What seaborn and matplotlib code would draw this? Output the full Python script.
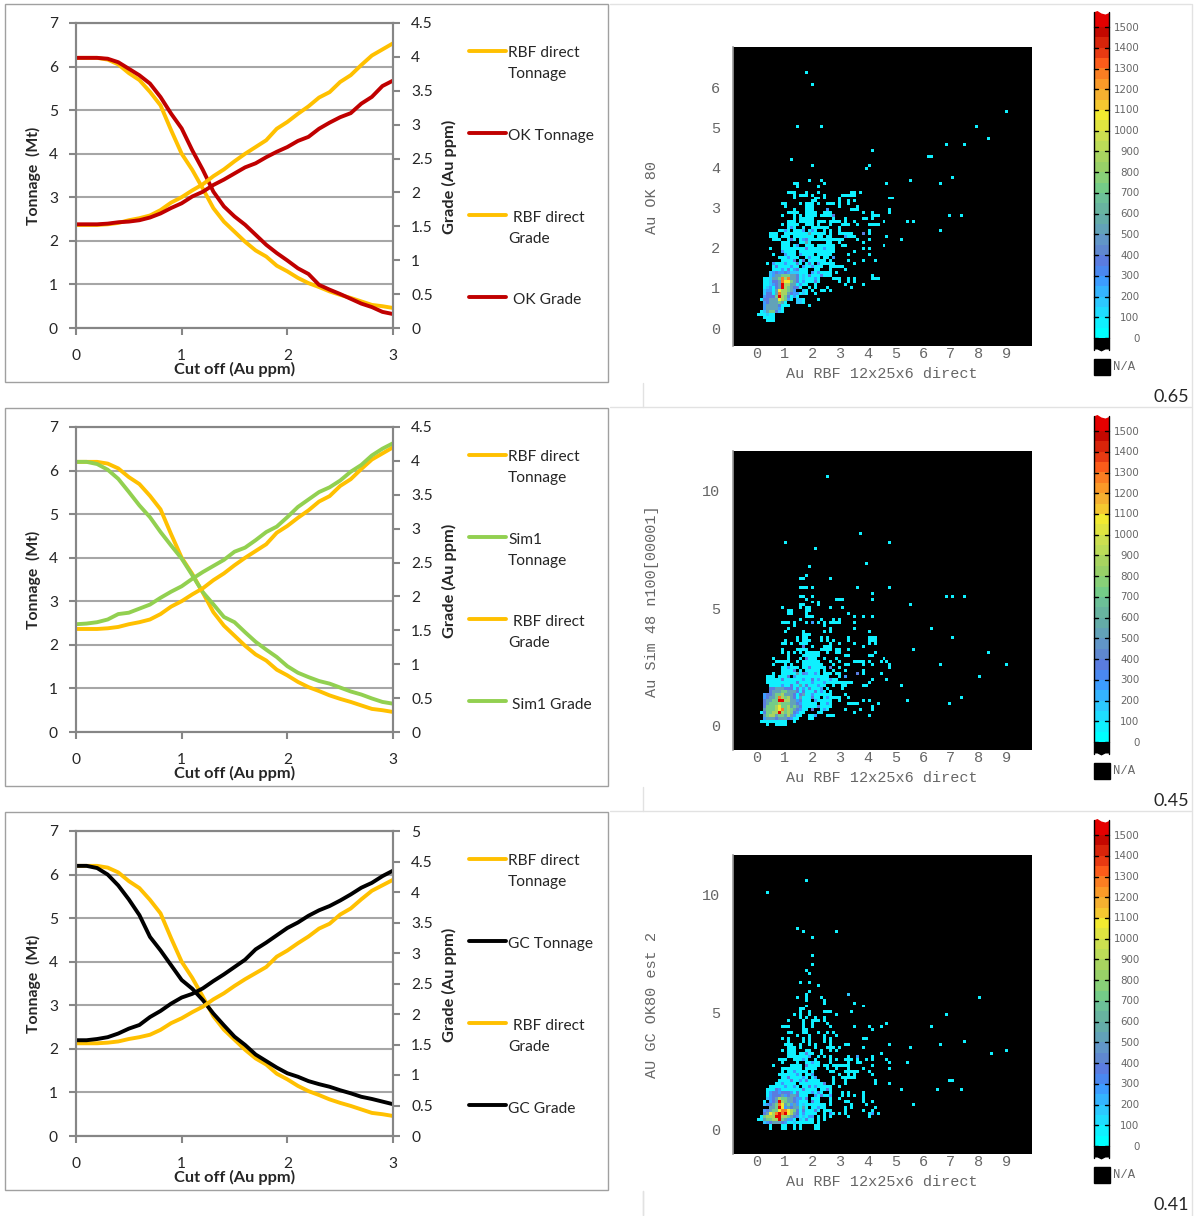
import numpy as np
import matplotlib
matplotlib.use('Agg')
import matplotlib.pyplot as plt
from matplotlib.colors import ListedColormap
import seaborn as sns

W, H = 1195, 1216

# --- grade / tonnage curves ---
cutoff = [0.0, 0.1, 0.2, 0.3, 0.4, 0.5, 0.6, 0.7, 0.8, 0.9, 1.0, 1.1, 1.2, 1.3, 1.4, 1.5,
          1.6, 1.7, 1.8, 1.9, 2.0, 2.1, 2.2, 2.3, 2.4, 2.5, 2.6, 2.7, 2.8, 2.9, 3.0]

rbf_tonnage = [6.2, 6.2, 6.2, 6.16, 6.05, 5.85, 5.69, 5.42, 5.11, 4.54, 4.0, 3.63, 3.2, 2.75, 2.44, 2.21,
               1.98, 1.78, 1.64, 1.43, 1.3, 1.15, 1.03, 0.94, 0.84, 0.76, 0.69, 0.61, 0.53, 0.5, 0.46]
rbf_grade = [1.52, 1.52, 1.52, 1.53, 1.55, 1.59, 1.62, 1.66, 1.74, 1.85, 1.93, 2.03, 2.12, 2.24, 2.34, 2.46,
             2.57, 2.67, 2.77, 2.94, 3.04, 3.16, 3.27, 3.4, 3.48, 3.63, 3.73, 3.88, 4.02, 4.11, 4.2]
ok_tonnage = [6.2, 6.2, 6.2, 6.18, 6.1, 5.95, 5.8, 5.61, 5.3, 4.92, 4.58, 4.08, 3.63, 3.13, 2.79, 2.56,
              2.37, 2.14, 1.91, 1.72, 1.55, 1.37, 1.24, 0.99, 0.88, 0.78, 0.67, 0.56, 0.48, 0.37, 0.32]
ok_grade = [1.53, 1.53, 1.53, 1.54, 1.56, 1.57, 1.59, 1.63, 1.69, 1.77, 1.84, 1.94, 2.01, 2.11, 2.19, 2.28,
            2.37, 2.43, 2.52, 2.6, 2.67, 2.76, 2.82, 2.94, 3.03, 3.11, 3.17, 3.31, 3.41, 3.57, 3.65]
sim_tonnage = [6.2, 6.2, 6.15, 6.02, 5.81, 5.51, 5.2, 4.93, 4.59, 4.28, 3.98, 3.6, 3.21, 2.93, 2.64, 2.52,
               2.29, 2.07, 1.89, 1.72, 1.51, 1.36, 1.26, 1.17, 1.11, 1.02, 0.93, 0.86, 0.77, 0.69, 0.65]
sim_grade = [1.59, 1.6, 1.62, 1.66, 1.74, 1.76, 1.82, 1.88, 1.98, 2.07, 2.15, 2.26, 2.36, 2.45, 2.54, 2.66,
             2.72, 2.83, 2.95, 3.03, 3.17, 3.32, 3.43, 3.54, 3.61, 3.71, 3.84, 3.94, 4.08, 4.18, 4.26]
gc_tonnage = [6.2, 6.2, 6.15, 6.0, 5.75, 5.43, 5.07, 4.57, 4.26, 3.92, 3.58, 3.38, 3.12, 2.81, 2.54, 2.28,
              2.09, 1.87, 1.72, 1.57, 1.44, 1.36, 1.26, 1.19, 1.13, 1.05, 0.98, 0.9, 0.85, 0.79, 0.73]
gc_grade = [1.57, 1.57, 1.59, 1.62, 1.68, 1.76, 1.82, 1.95, 2.05, 2.17, 2.27, 2.33, 2.42, 2.54, 2.65, 2.77,
            2.89, 3.06, 3.17, 3.29, 3.41, 3.5, 3.61, 3.7, 3.77, 3.86, 3.96, 4.07, 4.15, 4.26, 4.35]

grade_ticks_a = [0, 0.5, 1, 1.5, 2, 2.5, 3, 3.5, 4, 4.5]
grade_ticks_b = [0, 0.5, 1, 1.5, 2, 2.5, 3, 3.5, 4, 4.5, 5]
tonnage_ticks = [0, 1, 2, 3, 4, 5, 6, 7]
cutoff_ticks = [0, 1, 2, 3]

# --- scatter density cells, by bin row: "col" or "first-last" ---
p1_first_row = 44
p1_cells = ["25 29", "20 21 30 51", "21 28", "", "18-20 24 28 39 40 42", "20 22-24 26 30 36-40", "20 27 28 30 35 52 53",
            "26 27 35 38 40", "16 17 22 24-26 28 31-33 35 38", "17 24-26 35 41", "20 24-26 39-41 52",
            "18-21 24-27 30-32 43 46 52", "16 20 22 24-27 29-32 46-48", "20 22-26 33 37 43 44 46",
            "18-20 22-26 28-30 32-35 37 40 50 58 60", "16 18-21 24-26 28 32 36-38 41 45-48", "18-20 23 26 27 28-31 35",
            "15 16 18 20-23 25-27 30 32 35 45", "12-14 17-24 26-30 32 35-39 45", "12-14 16-18 20-26 28 29 31 32 38-40 51",
            "13-15 18-20 22-25 26-30 31-33 34 35 36 41 45 56", "16 17 18 22-25 31 32 35 43", "16-18 20 24-26 28-33 36 37 50",
            "12 16-19 20-22 23-26 27-31 32 33 43 45", "16-20 22-26 27-31 32 33 40", "13 17-20 22-26 28-31 32 38 45",
            "15 16 17-21 24-28 30 31 33", "16-19 22 23 25 26 27-29 30 32 38 43 47", "11 13-15 16-22 24-26 28-31 32 33 40",
            "13-16 17-21 24-29 32-36", "13-20 22-24 27 28 32 37", "12-16 18-23 24 27-32 34", "12-22 24-31 32 46",
            "11 13-22 24 25 26-28 33-35 38 40 46-48", "11 13-22 24-28 35 38 40", "11 13-21 23 24 27 37 43",
            "11-13 14-22 25 27 31 39", "11-13 15-20 24 26 29 30 32", "11-13 15-22 24 27", "11-19 21", "9-19 22 23 28",
            "11-17 22 23", "11-16 18 25", "10-16", "9-16", "8-13", "10-13", "11-13"]
p2_first_row = 37
p2_cells = ["44", "25", "", "", "24", "22 23 32", "", "", "22-24 26 41 52", "", "46", "22 23 26", "24 34-36 46", "26 28",
            "22 23 28 59", "16 22 24 25 32 36", "18 19 24 25", "18 19 24 38", "24-26 40 43 46", "22 29 33 35",
            "16-18 20 24 26 28 30 32 33-35 40", "20 30", "18 32 40", "17 23 30 32 45", "23-25",
            "21 23 24 29 31 38 45-47", "17 21 23-25 29 31 33 38 45-47", "16 17 19 22 23 24 32 35 40 45 47",
            "23 26 30-32 43", "16 21-23 24 29-32 34 35 38 60", "16 18 20 22 24 25-28 31 34 35 47",
            "18 23 24 25-28 37 38 45 46", "13 18 22 24 25-27 30 34 50", "14-18 21 23-28 32 35 40-42 43 45 49 51",
            "13 17 19 23-27 28 29 33 37 38 43 46 52", "16-21 23-25 26-30 32 35 52", "16-20 22 24-28 30 33 37 43",
            "13 16-20 22-25 26-28 30-32 34 35 41 43 49", "11-13 15-18 20-23 24-31 35 37", "11-17 18-32 33 34 46 51",
            "11-13 14-32 33-35 36-39 45", "12-29 30 33 36 37 43 44 56", "12-28 31 36", "13-30 32", "11-29 30-32 37",
            "11-28 30 32-35 38", "11-25 27-32 35 43 45 58", "11-27 29-32 38-41 48", "11-27 29-32 46", "10-24 29-31 37 42 46",
            "9-23 28 29 40", "10-22 25 26 31-33 45", "10-21 25 26", "9-13 14-17 20", "11 14-17"]
p3_first_row = 36
p3_cells = ["26", "", "24", "25", "", "", "22 25", "28", "", "25", "24 38", "21 24 29", "24 30", "30 40", "24 43", "22 23",
            "22 25 30-32 39", "20 22 25 34", "22 24 27 30", "18 23 26 27 28 30", "23 26 31 51", "16-18 23 26 32 40 45 49",
            "23 24 46", "18 19 23 24 28 31 33", "21 25 30 34", "16 18 23 25 30 32 43 44", "18 23 25 30 32",
            "17-19 22 25 27 32 37 38 52", "18-20 22 27 31 32 33 35 43 59", "16 18-20 24 25 29 32 34", "18-20 22-26 29 49",
            "18-25 28 30 32 38 41 46", "15-17 20-22 24 27 32 34 37-39 41 44 46 51", "16 21 24-28 32 38 41 42 52 58",
            "13 19-21 22 24-28 30 31 33-37 38 46", "16 17 18-22 24-27 31 34 38 43 52", "16 18-24 26 32 33 37-41 45",
            "15-21 22 24-26 35 38 40 46", "16-24 26 27 33 36-40", "15-28 33 37 47", "14-20 22-30 33 37 47 52",
            "12-21 23-32 35", "11-27 29-31 32 56", "11-27 29 32 36 38 43", "11-24 27-31 36 38 40 43", "12-24 26-28 32 35 43",
            "10 14-24 26-28 32 37 38 43 46", "12-23 24-30 32 39 44 60", "13-24 26-30 37 39 47", "10-24 25-28 30-32 37 43 46",
            "10-23 24-27 30 33 35 37 45 48", "9-22 24-26 28 30 32 38 45", "8 9-20 22-26 28 30", "10-19 21-26 28",
            "12 16 17 20 22 27 28", "12 16 17 20 22 27 28"]

# hot core of each scatter: characters are count levels, columns start at core_col
core_col = 10
p1_core_row = 75
p1_core = ["..2343343222..", "..2355666554.2", "1.2556979554.2", "1.2445988654.3", "1.2345r7755.3.", "123.45r76544..",
           "233.5877653..2", "244.59775433.2", "34446r764.3...", "445558763..22.", "3455565....22.", "355554.1......",
           "355553........", "256642........", "121..........."]
p2_core_row = 79
p2_core = ["..44555444.4.3", "..4555665554.4", "34456675554.4.", "34556976754.5.", "45566rr775534.", "4566676665543.",
           "4666786675654.", "5666789676543.", "46677r767643..", "56775665753...", "3555455543...."]
p3_core_row = 79
p3_core = ["..34434443.4..", "..3444534554..", ".23457665543..", "..345r765543..", "234569856353.2", "..556r835455.5",
           "345668998764.4", "45879r9r8754.3", "6777rr776543.2", "56677r6533..2.", "23455543..2..."]
level_counts = {'1': 75, '2': 175, '3': 275, '4': 375, '5': 525, '6': 725, '7': 875, '8': 1075, '9': 1275, 'r': 1525}

# blue cells inside the mid part of each cloud
p1_mid_col = [25, 24, 23, 17, 19, 23, 26, 33, 43, 31, 37, 24, 18, 21, 25, 13, 16, 18, 20, 26, 28, 30, 22, 24,
              17, 21, 19, 23, 16, 20, 17, 25, 23, 14, 19, 21, 26, 28, 29, 25, 27, 27, 33]
p1_mid_row = [62, 65, 71, 69, 60, 61, 61, 56, 62, 54, 63, 67, 70, 72, 70, 72, 74, 74, 74, 73, 72, 67, 69, 64,
              61, 66, 64, 64, 68, 71, 72, 72, 73, 73, 73, 74, 75, 75, 76, 76, 77, 78, 70]
p1_mid_cnt = [525, 525, 375, 275, 275, 275, 275, 375, 375, 275, 275, 375, 275, 375, 275, 275, 275, 375, 275, 275, 275, 275, 275, 375,
              275, 275, 375, 275, 275, 375, 275, 375, 275, 375, 275, 375, 275, 275, 375, 375, 275, 375, 275]
p2_mid_col = [24, 25, 21, 23, 26, 28, 19, 22, 25, 28, 32, 37, 41, 32, 20, 16, 23, 26, 31, 27, 29, 26, 23,
              18, 20, 24, 27, 18, 23, 26, 21, 16, 24, 30, 27, 26, 29, 31, 28, 30, 26, 27]
p2_mid_row = [69, 72, 74, 74, 76, 76, 78, 78, 79, 78, 76, 75, 74, 72, 75, 76, 81, 82, 84, 83, 79, 57, 65,
              72, 73, 74, 74, 75, 76, 77, 77, 78, 78, 77, 80, 81, 80, 82, 85, 86, 86, 88]
p2_mid_cnt = [375, 375, 525, 375, 375, 275, 375, 525, 375, 275, 275, 275, 375, 375, 275, 375, 525, 375, 275, 275, 275, 275, 375,
              275, 375, 275, 275, 375, 275, 275, 375, 275, 375, 275, 375, 275, 275, 275, 375, 275, 375, 275]
p3_mid_col = [24, 25, 23, 26, 24, 27, 24, 21, 30, 20, 17, 14, 13, 27, 29, 32, 22, 24, 38, 41, 32, 46,
              20, 18, 23, 26, 16, 19, 25, 27, 15, 23, 26, 28, 22, 26, 28, 27, 26, 24, 25, 31]
p3_mid_row = [66, 67, 68, 69, 70, 74, 75, 73, 76, 77, 77, 78, 80, 80, 80, 80, 75, 81, 46, 67, 86, 86,
              72, 74, 74, 73, 76, 75, 77, 77, 78, 78, 79, 79, 81, 82, 84, 85, 87, 88, 87, 78]
p3_mid_cnt = [375, 275, 275, 275, 375, 275, 375, 275, 375, 275, 275, 375, 375, 275, 375, 275, 275, 375, 175, 275, 275, 275,
              275, 375, 275, 275, 275, 375, 375, 275, 275, 375, 275, 275, 275, 375, 275, 375, 275, 375, 275, 375]

# isolated high-grade cells, in Au ppm
p1_far_x = [1.79, 2.0, 1.48, 2.33, 8.96, 7.98, 8.41, 6.83, 6.9, 7.46, 4.15, 6.25, 6.33, 1.27, 2.0, 4.05, 3.94, 5.56, 7.03, 6.61, 6.92, 7.34, 6.61]
p1_far_y = [6.35, 6.06, 5.02, 5.02, 5.39, 5.02, 4.72, 4.59, 4.59, 4.59, 4.43, 4.29, 4.29, 4.23, 4.07, 4.07, 4.0, 3.71, 3.77, 3.63, 2.82, 2.82, 2.45]
p2_far_x = [2.52, 1.0, 2.09, 3.7, 4.78, 9.0, 8.4, 8.0, 7.12, 7.5, 6.83, 6.26, 7.05, 6.65, 7.34, 6.94]
p2_far_y = [10.6, 7.8, 7.5, 8.2, 7.84, 2.55, 3.05, 2.03, 5.55, 5.55, 5.5, 4.15, 3.8, 2.55, 1.23, 1.0]
p3_far_x = [0.4, 1.76, 1.47, 1.62, 2.84, 1.98, 1.98, 9.0, 8.42, 8.0, 6.33, 6.83, 6.62, 7.48, 7.05, 6.94, 7.37, 6.58]
p3_far_y = [10.08, 10.6, 8.6, 8.43, 8.47, 8.18, 7.46, 3.39, 3.3, 5.59, 4.32, 4.92, 3.56, 3.69, 2.03, 2.03, 1.69, 1.65]

rbf_ticks = [0, 1, 2, 3, 4, 5, 6, 7, 8, 9]
p1_y_ticks = [0, 1, 2, 3, 4, 5, 6]
p2_y_ticks = [0, 5, 10]
p3_y_ticks = [0, 5, 10]

band_colors = ['#00ffff', '#0ff0ff', '#1fdcff', '#2cc8ff', '#34b4ff', '#3c9cff', '#4a88f0', '#5a7ce0',
               '#5f88d0', '#6196c8', '#62a2b8', '#64aca8', '#68b4a0', '#6cc098', '#74cc88', '#88d078',
               '#98d068', '#a8d460', '#bcdc58', '#ccdf50', '#e0e440', '#f2ea30', '#f5c830', '#f5b030',
               '#fa9a28', '#fa7e22', '#fc5c1a', '#e83a12', '#d8240a', '#c40800', '#e40000', '#e40000']
band_mids = [1575, 1525, 1475, 1425, 1375, 1325, 1275, 1225, 1175, 1125, 1075, 1025, 975, 925, 875, 825, 775,
             725, 675, 625, 575, 525, 475, 425, 375, 325, 275, 225, 175, 125, 75, 25, -25, -75]
band_labels = [1500, 1400, 1300, 1200, 1100, 1000, 900, 800, 700, 600, 500, 400, 300, 200, 100, 0]

sns.set_theme(style='white')
plt.rcParams['font.family'] = ['Lato', 'DejaVu Sans']
GRAY = '#868686'
TXT = '#262626'
MONO = 'Liberation Mono'
dens_cmap = ListedColormap(band_colors)

fig = plt.figure(figsize=(W / 100, H / 100), dpi=100, facecolor='white')


def px_axes(x0, y0, x1, y1, **kw):
    return fig.add_axes([x0 / W, 1 - y1 / H, (x1 - x0) / W, (y1 - y0) / H], **kw)


page = px_axes(0, 0, W, H, zorder=5)
page.set_xlim(0, W)
page.set_ylim(H, 0)
page.axis('off')
page.patch.set_alpha(0)


def curve_panel(dy, grade_ticks, other_t, other_g, color, names):
    y0, y1 = 23 + dy, 328 + dy
    ax = px_axes(76, y0, 393, y1)
    line_kw = dict(linewidth=2.8, solid_joinstyle='round')
    sns.lineplot(x=cutoff, y=rbf_tonnage, ax=ax, color='#ffc000', **line_kw)
    sns.lineplot(x=cutoff, y=other_t, ax=ax, color=color, **line_kw)
    ax.set_xlim(0, 3)
    ax.set_ylim(0, 7)
    ax.set_xticks(cutoff_ticks)
    ax.set_yticks(tonnage_ticks)
    ax.grid(axis='y', color='#a6a6a6', linewidth=1.5)
    ax.set_axisbelow(True)
    ax.tick_params(length=5, width=1.5, color=GRAY, labelsize=11.2, labelcolor=TXT, pad=8, bottom=True, left=True)
    ax.xaxis.set_tick_params(pad=10)
    ax2 = ax.twinx()
    sns.lineplot(x=cutoff, y=rbf_grade, ax=ax2, color='#ffc000', **line_kw)
    sns.lineplot(x=cutoff, y=other_g, ax=ax2, color=color, **line_kw)
    ax2.set_ylim(0, grade_ticks[-1])
    ax2.set_yticks(grade_ticks)
    ax2.set_yticklabels([f'{t:g}' for t in grade_ticks])
    ax2.tick_params(length=5, width=1.5, color=GRAY, labelsize=11.2, labelcolor=TXT, pad=8, right=True)
    ax2.grid(False)
    ax2.set_xlim(0, 3)
    for a in (ax, ax2):
        a.set_ylabel('')
        for s in a.spines.values():
            s.set_color(GRAY)
            s.set_linewidth(1.5)
    # frame and axis titles
    page.add_patch(plt.Rectangle((5, 4 + dy), 603, 378, fill=False, ec='#a0a0a0', lw=1))
    page.text(33, 176 + dy, 'Tonnage  (Mt)', rotation=90, ha='center', va='center', fontsize=11.3, fontweight='bold', color=TXT)
    page.text(449, 177 + dy, 'Grade (Au ppm)', rotation=90, ha='center', va='center', fontsize=11.8, fontweight='bold', color=TXT)
    page.text(235, 369 + dy, 'Cut off (Au ppm)', ha='center', va='center', fontsize=11.8, fontweight='bold', color=TXT)
    # hand-placed legend
    keys = [51, 133, 215, 297]
    key_colors = ['#ffc000', color, '#ffc000', color]
    for k, c in zip(keys, key_colors):
        page.plot([469, 506], [k + dy, k + dy], color=c, lw=2.8, solid_capstyle='round')
    for tx, ty, s in names:
        page.text(tx, ty + 1 + dy, s, ha='left', va='center', fontsize=11.2, color=TXT)


def fill_cells(grid, first_row, cells):
    for i, row in enumerate(cells):
        for tok in row.split():
            a, _, b = tok.partition('-')
            grid[first_row + i, int(a):int(b or a) + 1] = 75


def density_panel(dy, cells, first_row, core, core_row, mid, far, y_top, y_scale, y_ticks, ylabel, label_y, r2):
    grid = np.zeros((100, 100))
    fill_cells(grid, first_row, cells)
    x_scale = 27.8
    x_min = (733 - 757) / x_scale
    for x, y in zip(*far):
        r = int((y_top - y) * y_scale / 3)
        c = int((x - x_min) * x_scale / 3)
        grid[r, c] = 75
    for i, row in enumerate(mid[1]):
        grid[row, mid[0][i]] = mid[2][i]
    for i, row in enumerate(core):
        for j, ch in enumerate(row):
            if ch != '.':
                grid[core_row + i, core_col + j] = level_counts[ch]
    ax = px_axes(733, 47 + dy, 1032, 346 + dy)
    ax.set_facecolor('black')
    sns.heatmap(grid, ax=ax, mask=grid == 0, cmap=dens_cmap, vmin=0, vmax=1600, cbar=False,
                xticklabels=False, yticklabels=False, square=False)
    ax.set_xticks([(t - x_min) * x_scale / 3 for t in rbf_ticks])
    ax.set_xticklabels([str(t) for t in rbf_ticks], family=MONO, fontsize=11, color='#666666')
    ax.set_yticks([(y_top - t) * y_scale / 3 for t in y_ticks])
    ax.set_yticklabels([str(t) for t in y_ticks], family=MONO, fontsize=11, color='#666666', rotation=0)
    ax.tick_params(length=0)
    ax.tick_params(axis='y', pad=9)
    ax.tick_params(axis='x', pad=1)
    ax.spines['left'].set_visible(True)
    ax.spines['left'].set_color('#9a9a9a')
    ax.spines['left'].set_linewidth(1.2)
    page.text(882, 374 + dy, 'Au RBF 12x25x6 direct', family=MONO, ha='center', va='center', fontsize=10.9, color='#666666')
    page.text(652, label_y + dy, ylabel, family=MONO, rotation=90, ha='center', va='center', fontsize=11, color='#666666')
    # colour key
    bar = px_axes(1094, 11 + dy, 1109, 352 + dy)
    bar.set_facecolor('black')
    vals = np.array(band_mids, dtype=float).reshape(-1, 1)
    sns.heatmap(vals, ax=bar, mask=vals < 0, cmap=dens_cmap, vmin=0, vmax=1600, cbar=False,
                xticklabels=False, yticklabels=False)
    to_cell = lambda v: (1600 - v) / 50
    bar.set_ylim(to_cell(-67), to_cell(1577))
    bar.set_yticks([to_cell(v) for v in band_labels])
    bar.tick_params(length=0)
    bar.set_yticklabels([])
    for v in band_labels:
        y = 338 - v * 0.2073 + dy
        page.plot([1094, 1098], [y, y], color='black', lw=1)
        page.plot([1105, 1109], [y, y], color='black', lw=1)
        page.text(1139.5, y + 0.5, str(v), ha='right', va='center', fontsize=7.4, color='#666666', family='DejaVu Sans')
    page.plot([1094, 1094], [12 + dy, 350 + dy], color='black', lw=1)
    page.plot([1109, 1109], [12 + dy, 350 + dy], color='black', lw=1)
    wave_x = [1093, 1097, 1101, 1105, 1110]
    page.fill_between(wave_x, [9 + dy] * 5, [12 + dy, 10.5 + dy, 13 + dy, 14 + dy, 12 + dy], color='white', lw=0)
    page.fill_between(wave_x, [349 + dy, 349 + dy, 351 + dy, 349 + dy, 349 + dy], [354 + dy] * 5, color='white', lw=0)
    page.add_patch(plt.Rectangle((1094, 359 + dy), 16, 16, color='black'))
    page.text(1113, 367.5 + dy, 'N/A', family=MONO, ha='left', va='center', fontsize=8.8, color='#666666')
    page.text(1189, 397.5 + dy, r2, ha='right', va='center', fontsize=13, color=TXT)
    # table lines
    page.plot([643, 643], [383 + dy, 407 + dy], color='#e2e2e2', lw=1)


curve_panel(0, grade_ticks_a, ok_tonnage, ok_grade, '#c00000',
            [(508, 52, 'RBF direct'), (508, 73, 'Tonnage'), (508, 135, 'OK Tonnage'),
             (513, 217, 'RBF direct'), (508, 238, 'Grade'), (513, 299, 'OK Grade')])
curve_panel(404, grade_ticks_a, sim_tonnage, sim_grade, '#92d050',
            [(508, 52, 'RBF direct'), (508, 73, 'Tonnage'), (508, 135, 'Sim1'), (508, 156, 'Tonnage'),
             (513, 217, 'RBF direct'), (508, 238, 'Grade'), (512, 300, 'Sim1 Grade')])
curve_panel(808, grade_ticks_b, gc_tonnage, gc_grade, '#000000',
            [(508, 52, 'RBF direct'), (508, 73, 'Tonnage'), (508, 135, 'GC Tonnage'),
             (513, 217, 'RBF direct'), (508, 238, 'Grade'), (508, 300, 'GC Grade')])

density_panel(0, p1_cells, p1_first_row, p1_core, p1_core_row, (p1_mid_col, p1_mid_row, p1_mid_cnt),
              (p1_far_x, p1_far_y), 7.0, 40.3, p1_y_ticks, 'Au OK 80', 197, '0.65')
density_panel(404, p2_cells, p2_first_row, p2_core, p2_core_row, (p2_mid_col, p2_mid_row, p2_mid_cnt),
              (p2_far_x, p2_far_y), 11.69, 23.6, p2_y_ticks, 'Au Sim 48 n100[00001]', 197, '0.45')
density_panel(808, p3_cells, p3_first_row, p3_core, p3_core_row, (p3_mid_col, p3_mid_row, p3_mid_cnt),
              (p3_far_x, p3_far_y), 11.69, 23.6, p3_y_ticks, 'AU GC OK80 est 2', 197, '0.41')

# outer table rules
for ya, yb, xa, xb in [(4, 4, 610, 1191), (407, 407, 610, 1191), (811, 811, 610, 1191), (4, 1216, 1192, 1192)]:
    page.plot([xa, xb], [ya, yb], color='#e2e2e2', lw=1)
page.plot([643, 643], [1191, 1216], color='#e2e2e2', lw=1)
page.set_xlim(0, W)
page.set_ylim(H, 0)

fig.savefig('out.png', dpi=100)
